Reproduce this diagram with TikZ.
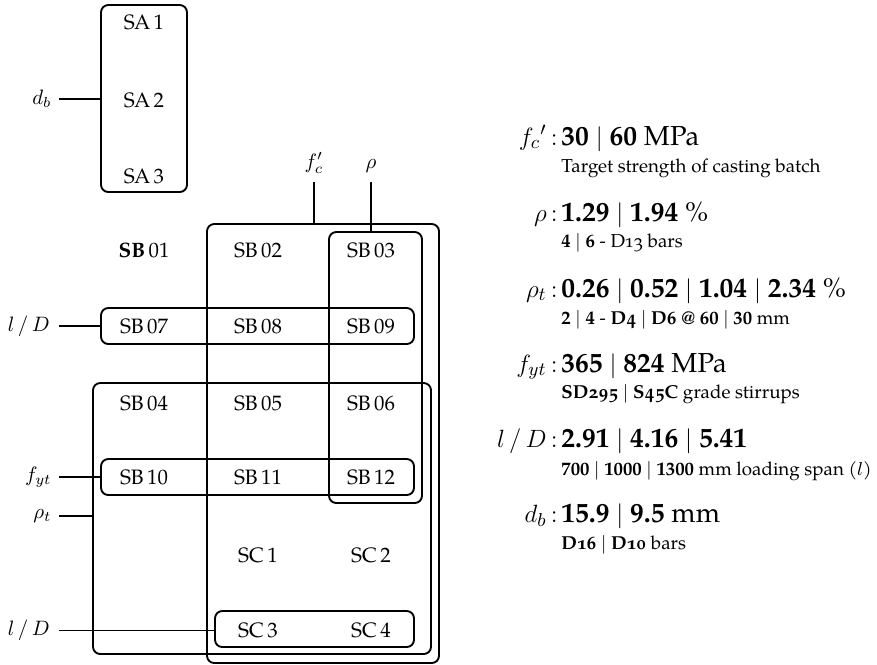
\documentclass[tikz,border=0pt]{standalone}
\usepackage{fontspec}
\setmainfont{TeX Gyre Pagella}[Numbers=OldStyle]
\newcommand{\lnum}[1]{{\addfontfeature{Numbers=Lining}#1}}
\newcommand{\bnum}[1]{\textbf{\addfontfeature{Numbers=Lining}#1}}
\newcommand{\sep}{\ensuremath{\mid}}
\newcommand{\headsize}{\fontsize{13.2}{15}\selectfont}
\usetikzlibrary{fit}
\begin{document}
\begin{tikzpicture}[x=0.48pt,y=-0.48pt,
  grp/.style={draw, line width=0.9pt, rounded corners=3.5pt, inner sep=0pt},
  conn/.style={line width=0.5pt},
  cell/.style={inner sep=0pt},
  lab/.style={inner sep=0pt, anchor=east},
  toplab/.style={inner sep=0pt, anchor=south},
  hlab/.style={inner sep=0pt, anchor=base east, font=\headsize},
  hval/.style={inner sep=0pt, anchor=base west, font=\headsize},
  hsub/.style={inner sep=0pt, anchor=base west, font=\small}]
\useasboundingbox (0,0) rectangle (877,664);

% groups
\node[grp, fit={(101,5) (187,192)}] (gSA) {};
\node[grp, fit={(207,224) (439,663)}] (gfc) {};
\node[grp, fit={(329,232) (422,503)}] (grho) {};
\node[grp, fit={(101,308) (414,344)}] (glda) {};
\node[grp, fit={(93,383) (431,654)}] (grt) {};
\node[grp, fit={(101,459) (414,495)}] (gfyt) {};
\node[grp, fit={(215,611) (414,647)}] (gldb) {};

% cells
\node[cell] (sa1) at (144,22) {SA\,\lnum{1}};
\node[cell] (sa2) at (144,100) {SA\,\lnum{2}};
\node[cell] (sa3) at (144,176) {SA\,\lnum{3}};
\node[cell] (sb01) at (144,250) {\textbf{SB}\,\lnum{01}};
\node[cell] (sb02) at (258,250) {SB\,\lnum{02}};
\node[cell] (sb03) at (371,250) {SB\,\lnum{03}};
\node[cell] (sb07) at (144,326) {SB\,\lnum{07}};
\node[cell] (sb08) at (258,326) {SB\,\lnum{08}};
\node[cell] (sb09) at (371,326) {SB\,\lnum{09}};
\node[cell] (sb04) at (144,403) {SB\,\lnum{04}};
\node[cell] (sb05) at (258,403) {SB\,\lnum{05}};
\node[cell] (sb06) at (371,403) {SB\,\lnum{06}};
\node[cell] (sb10) at (144,477) {SB\,\lnum{10}};
\node[cell] (sb11) at (258,477) {SB\,\lnum{11}};
\node[cell] (sb12) at (371,477) {SB\,\lnum{12}};
\node[cell] (sc1) at (258,555) {SC\,\lnum{1}};
\node[cell] (sc2) at (371,555) {SC\,\lnum{2}};
\node[cell] (sc3) at (258,630) {SC\,\lnum{3}};
\node[cell] (sc4) at (371,630) {SC\,\lnum{4}};

% left labels
\node[lab] (ldb) at (52,99) {$d_b$};
\node[lab] (llda) at (50,326) {$l\,/\,D$};
\node[lab] (lfyt) at (52,477) {$f_{yt}$};
\node[lab] (lrt) at (52,516) {$\rho_t$};
\node[lab] (lldb) at (50,630) {$l\,/\,D$};
\draw[conn] (ldb.east) ++(3.4pt,0) -- (ldb.east -| gSA.west);
\draw[conn] (llda.east) ++(4.3pt,0) -- (llda.east -| glda.west);
\draw[conn] (lfyt.east) ++(3.4pt,0) -- (lfyt.east -| gfyt.west);
\draw[conn] (lrt.east) ++(3.4pt,0) -- (lrt.east -| grt.west);
\draw[conn] (lldb.east) ++(4.3pt,0) -- (lldb.east -| gldb.west);

% top labels
\node[toplab] (lfc) at (314,174) {$f'_c$};
\node[toplab] (lrho) at (371,173) {$\rho$};
\draw[conn, shorten <=3.8pt] (lfc.south) -- (lfc.south |- gfc.north);
\draw[conn, shorten <=4.3pt] (lrho.south) -- (lrho.south |- grho.north);

% right panel
\node[hlab] (kfc) at (558,145) {$f_c{}'\,{:}$};
\node[hval] (vfc) at (561,145) {\bnum{30} \sep{} \bnum{60} MPa};
\node[hsub] (sfc) at (561,172) {Target strength of casting batch};

\node[hlab] (krho) at (558,221) {$\rho\,{:}$};
\node[hval] (vrho) at (561,221) {\bnum{1.29} \sep{} \bnum{1.94} \%};
\node[hsub] (srho) at (561,247) {\bnum{4} \sep{} \bnum{6} - D13 bars};

\node[hlab] (krt) at (558,297) {$\rho_t\,{:}$};
\node[hval] (vrt) at (561,297) {\bnum{0.26} \sep{} \bnum{0.52} \sep{} \bnum{1.04} \sep{} \bnum{2.34} \%};
\node[hsub] (srt) at (561,324) {\bnum{2} \sep{} \bnum{4} - \textbf{D4} \sep{} \textbf{D6 @} \bnum{60} \sep{} \bnum{30} mm};

\node[hlab] (kfyt) at (558,372) {$f_{yt}\,{:}$};
\node[hval] (vfyt) at (561,372) {\bnum{365} \sep{} \bnum{824} MPa};
\node[hsub] (sfyt) at (561,398) {\textbf{SD295} \sep{} \textbf{S45C} grade stirrups};

\node[hlab] (kld) at (558,447) {$l\,/\,D\,{:}$};
\node[hval] (vld) at (561,447) {\bnum{2.91} \sep{} \bnum{4.16} \sep{} \bnum{5.41}};
\node[hsub] (sld) at (561,475) {\bnum{700} \sep{} \bnum{1000} \sep{} \bnum{1300} mm loading span ($l$)};

\node[hlab] (kdb) at (558,522) {$d_b\,{:}$};
\node[hval] (vdb) at (561,522) {\bnum{15.9} \sep{} \bnum{9.5} mm};
\node[hsub] (sdb) at (561,549) {\textbf{D16} \sep{} \textbf{D10} bars};
\end{tikzpicture}
\end{document}
